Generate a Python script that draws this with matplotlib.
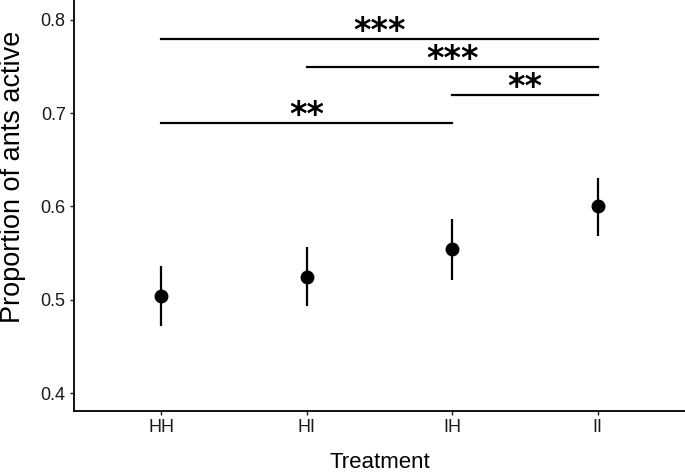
import matplotlib
matplotlib.use('Agg')
import matplotlib.pyplot as plt

treatments = ['HH', 'HI', 'IH', 'II']
means = [0.504, 0.524, 0.554, 0.600]
lower = [0.472, 0.493, 0.521, 0.568]
upper = [0.536, 0.557, 0.587, 0.631]

# pairwise comparisons drawn as brackets
sig_from = ['HH', 'HI', 'IH', 'HH']
sig_to = ['II', 'II', 'II', 'IH']
sig_y = [0.78, 0.75, 0.72, 0.69]
sig_label = ['***', '***', '**', '**']

plt.rcParams['font.family'] = ['Liberation Sans', 'DejaVu Sans']

fig = plt.figure(figsize=(6.85, 4.73), dpi=100)
ax = fig.add_axes([0.108, 0.131, 0.892, 0.869])

x = list(range(len(treatments)))
err = [[m - l for m, l in zip(means, lower)], [u - m for m, u in zip(means, upper)]]
ax.errorbar(x, means, yerr=err, fmt='o', color='black', ms=9, elinewidth=1.6, capsize=0)

for a, b, y, lab in zip(sig_from, sig_to, sig_y, sig_label):
	xa = treatments.index(a)
	xb = treatments.index(b)
	ax.plot([xa, xb], [y, y], color='black', lw=1.6)
	ax.text((xa + xb) / 2, y - 0.003, lab, ha='center', va='baseline', fontsize=24,
		fontweight='bold', family='DejaVu Sans')

ax.set_xlim(-0.6, 3.6)
ax.set_ylim(0.3807, 0.8214)
ax.set_xticks(x)
ax.set_xticklabels(treatments)
ax.set_yticks([0.4, 0.5, 0.6, 0.7, 0.8])
ax.set_yticklabels(['0.4', '0.5', '0.6', '0.7', '0.8'])
ax.tick_params(labelsize=13, length=3, width=1, colors='#1a1a1a', pad=3)
ax.set_xlabel('Treatment', fontsize=16, labelpad=11)
ax.set_ylabel('Proportion of ants active', fontsize=19.5)
ax.yaxis.set_label_coords(-0.079, 0.569)
for s in ['top', 'right']:
	ax.spines[s].set_visible(False)
for s in ['left', 'bottom']:
	ax.spines[s].set_linewidth(1.3)

fig.savefig('out.png', dpi=100)
